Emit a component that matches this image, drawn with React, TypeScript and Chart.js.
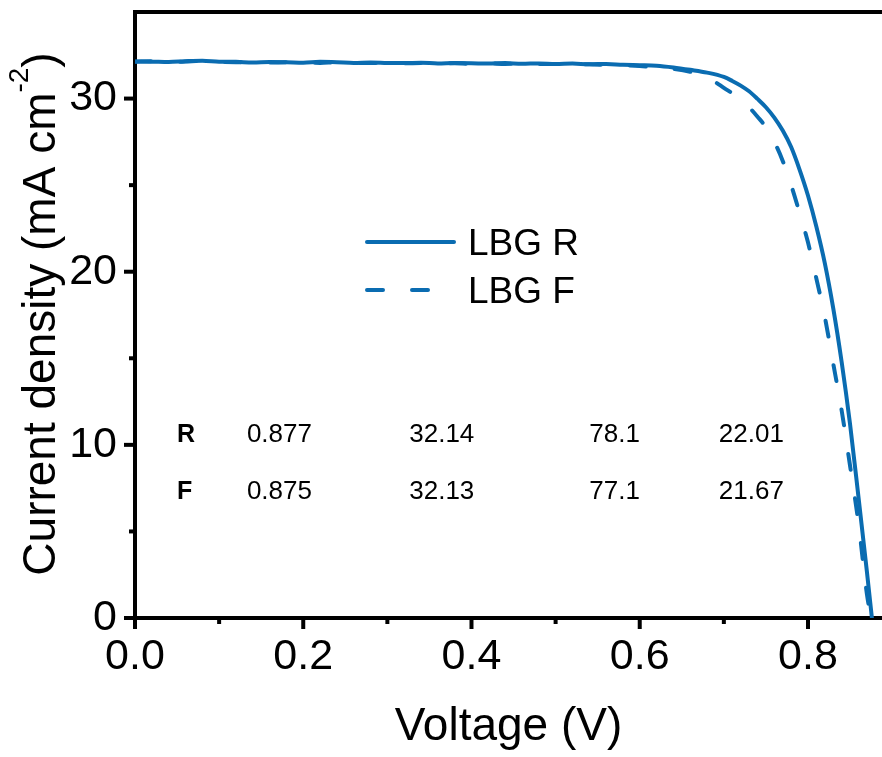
import React, { useEffect, useRef } from 'react';
import { Chart, registerables } from 'chart.js';

Chart.register(...registerables);

// ---------- data ----------
const voltageR = [
  0, 0.02, 0.04, 0.06, 0.08, 0.1, 0.12, 0.14, 0.16, 0.18, 0.2, 0.22, 0.24, 0.26, 0.28, 0.3,
  0.32, 0.34, 0.36, 0.38, 0.4, 0.42, 0.44, 0.46, 0.48, 0.5, 0.52, 0.54, 0.56, 0.58, 0.6,
  0.62, 0.64, 0.66, 0.68, 0.7, 0.71, 0.72, 0.73, 0.74, 0.75, 0.76, 0.77, 0.78, 0.79, 0.8,
  0.81, 0.82, 0.83, 0.84, 0.85, 0.86, 0.87, 0.876,
];
const currentR = [
  32.14, 32.13, 32.11, 32.16, 32.19, 32.13, 32.12, 32.08, 32.11, 32.1, 32.07, 32.12, 32.1, 32.06, 32.09, 32.06,
  32.05, 32.07, 32.03, 32.05, 32.04, 32.02, 32.05, 32.01, 32.03, 32.0, 32.02, 31.98, 32.0, 31.95, 31.93,
  31.9, 31.8, 31.66, 31.5, 31.25, 31.02, 30.75, 30.42, 29.98, 29.5, 28.9, 28.15, 27.2, 25.9, 24.4,
  22.6, 20.5, 17.9, 14.8, 11.2, 7.0, 2.7, 0,
];
const voltageF = [
  0, 0.02, 0.04, 0.06, 0.08, 0.1, 0.12, 0.14, 0.16, 0.18, 0.2, 0.22, 0.24, 0.26, 0.28, 0.3,
  0.32, 0.34, 0.36, 0.38, 0.4, 0.42, 0.44, 0.46, 0.48, 0.5, 0.52, 0.54, 0.56, 0.58, 0.6,
  0.62, 0.64, 0.66, 0.68, 0.69, 0.7, 0.71, 0.72, 0.73, 0.74, 0.75, 0.76, 0.77, 0.78, 0.79, 0.8,
  0.81, 0.82, 0.83, 0.84, 0.85, 0.86, 0.87, 0.875,
];
const currentF = [
  32.13, 32.15, 32.12, 32.14, 32.17, 32.12, 32.1, 32.11, 32.08, 32.1, 32.09, 32.06, 32.1, 32.07, 32.05, 32.07,
  32.04, 32.05, 32.02, 32.04, 32.01, 32.03, 32.0, 32.02, 31.99, 32.0, 31.97, 31.98, 31.94, 31.92, 31.88,
  31.8, 31.72, 31.55, 31.25, 30.95, 30.62, 30.3, 29.95, 29.5, 28.95, 28.35, 27.5, 26.4, 25.0, 23.4, 21.7,
  19.6, 17.4, 14.7, 12.0, 8.8, 5.5, 1.4, 0,
];
const seriesLabels = ['LBG R', 'LBG F'];
const xMajorTicks = [0, 0.2, 0.4, 0.6, 0.8];
const xMinorTicks = [0.1, 0.3, 0.5, 0.7];
const yMajorTicks = [0, 10, 20, 30];
const yMinorTicks = [5, 15, 25];
const tableRowLabels = ['R', 'F'];
const tableValuesR = ['0.877', '32.14', '78.1', '22.01'];
const tableValuesF = ['0.875', '32.13', '77.1', '21.67'];
const xTitle = 'Voltage (V)';
const yTitleMain = 'Current density (mA cm';
const yTitleSup = '-2';
const yTitleEnd = ')';

// ---------- layout / style ----------
const X_MIN = 0;
const X_MAX = 0.888;
const Y_MIN = 0;
const Y_MAX = 35;
const FONT = "'Liberation Sans', Arial, sans-serif";
const BLUE = '#0a6cb1';
const TABLE_COL_V = [0.05, 0.133, 0.326, 0.54, 0.694];
const TABLE_ROW_J = [10.17, 6.9];

const decorPlugin = {
  id: 'decor',
  afterDraw(chart: any) {
    const { ctx, chartArea: a, scales } = chart;
    const xs = scales.x;
    const ys = scales.y;
    ctx.save();
    ctx.strokeStyle = '#000';
    ctx.lineCap = 'butt';
    ctx.lineWidth = 4;
    // top frame line
    ctx.beginPath();
    ctx.moveTo(a.left - 2, a.top);
    ctx.lineTo(a.right, a.top);
    ctx.stroke();
    // ticks
    const seg = (x1: number, y1: number, x2: number, y2: number) => {
      ctx.beginPath();
      ctx.moveTo(x1, y1);
      ctx.lineTo(x2, y2);
      ctx.stroke();
    };
    xMajorTicks.forEach((v) => { const p = xs.getPixelForValue(v); seg(p, a.bottom, p, a.bottom + 11); });
    xMinorTicks.forEach((v) => { const p = xs.getPixelForValue(v); seg(p, a.bottom, p, a.bottom + 6); });
    yMajorTicks.forEach((v) => { const p = ys.getPixelForValue(v); seg(a.left, p, a.left - 11, p); });
    yMinorTicks.forEach((v) => { const p = ys.getPixelForValue(v); seg(a.left, p, a.left - 6, p); });

    // legend
    const ds = chart.data.datasets;
    const legX1 = a.left + 232;
    const legX2 = a.left + 319;
    const legRows = [a.top + 230, a.top + 278];
    ds.forEach((d: any, i: number) => {
      ctx.save();
      ctx.strokeStyle = d.borderColor;
      ctx.lineWidth = d.borderWidth;
      ctx.lineCap = 'round';
      ctx.setLineDash(d.borderDash || []);
      ctx.beginPath();
      ctx.moveTo(legX1, legRows[i]);
      ctx.lineTo(legX2, legRows[i]);
      ctx.stroke();
      ctx.restore();
      ctx.fillStyle = '#000';
      ctx.font = `37px ${FONT}`;
      ctx.textAlign = 'left';
      ctx.textBaseline = 'alphabetic';
      ctx.fillText(d.label, a.left + 333, legRows[i] + 13);
    });

    // parameter table
    const rows = [tableValuesR, tableValuesF];
    rows.forEach((vals, r) => {
      const py = ys.getPixelForValue(TABLE_ROW_J[r]);
      ctx.fillStyle = '#000';
      ctx.textAlign = 'left';
      ctx.textBaseline = 'alphabetic';
      ctx.font = `bold 25px ${FONT}`;
      ctx.fillText(tableRowLabels[r], xs.getPixelForValue(TABLE_COL_V[0]), py);
      ctx.font = `26px ${FONT}`;
      vals.forEach((t, c) => {
        ctx.fillText(t, xs.getPixelForValue(TABLE_COL_V[c + 1]), py);
      });
    });

    // y axis title with superscript
    ctx.save();
    ctx.translate(55, (a.top + a.bottom) / 2 - 1);
    ctx.rotate(-Math.PI / 2);
    ctx.fillStyle = '#000';
    ctx.textAlign = 'left';
    ctx.textBaseline = 'alphabetic';
    const mainFont = `46px ${FONT}`;
    const supFont = `28px ${FONT}`;
    ctx.font = mainFont;
    const w1 = ctx.measureText(yTitleMain).width;
    const w3 = ctx.measureText(yTitleEnd).width;
    ctx.font = supFont;
    const w2 = ctx.measureText(yTitleSup).width;
    const start = -(w1 + w2 + w3) / 2;
    ctx.font = mainFont;
    ctx.fillText(yTitleMain, start, 0);
    ctx.font = supFont;
    ctx.fillText(yTitleSup, start + w1, -27);
    ctx.font = mainFont;
    ctx.fillText(yTitleEnd, start + w1 + w2, 0);
    ctx.restore();

    ctx.restore();
  },
};

export default function App() {
  const ref = useRef<HTMLCanvasElement>(null);
  useEffect(() => {
    if (!ref.current) return;
    const chart = new Chart(ref.current, {
      type: 'line',
      data: {
        datasets: [
          {
            label: seriesLabels[0],
            data: voltageR.map((v, i) => ({ x: v, y: currentR[i] })),
            borderColor: BLUE,
            backgroundColor: BLUE,
            borderWidth: 4,
            pointRadius: 0,
            cubicInterpolationMode: 'monotone',
            borderCapStyle: 'round',
            borderJoinStyle: 'round',
            fill: false,
          },
          {
            label: seriesLabels[1],
            data: voltageF.map((v, i) => ({ x: v, y: currentF[i] })),
            borderColor: BLUE,
            backgroundColor: BLUE,
            borderWidth: 4,
            borderDash: [16, 29],
            pointRadius: 0,
            cubicInterpolationMode: 'monotone',
            borderCapStyle: 'round',
            borderJoinStyle: 'round',
            fill: false,
          },
        ],
      },
      options: {
        responsive: false,
        animation: false,
        devicePixelRatio: 1,
        layout: { padding: { top: 12, right: 0, bottom: 0, left: 0 } },
        plugins: { legend: { display: false }, tooltip: { enabled: false } },
        scales: {
          x: {
            type: 'linear',
            min: X_MIN,
            max: X_MAX,
            afterBuildTicks: (s: any) => { s.ticks = xMajorTicks.map((value) => ({ value })); },
            afterFit: (s: any) => { s.height = 139; s.paddingLeft = 0; s.paddingRight = 0; },
            grid: { display: false, drawTicks: false },
            border: { display: true, color: '#000', width: 4 },
            ticks: {
              padding: 13,
              color: '#000',
              font: { family: FONT, size: 43 },
              maxRotation: 0,
              autoSkip: false,
              callback: (v: any) => Number(v).toFixed(1),
            },
            title: {
              display: true,
              text: xTitle,
              color: '#000',
              font: { family: FONT, size: 46 },
              padding: { top: 0, bottom: 2 },
            },
          },
          y: {
            type: 'linear',
            min: Y_MIN,
            max: Y_MAX,
            afterBuildTicks: (s: any) => { s.ticks = yMajorTicks.map((value) => ({ value })); },
            afterFit: (s: any) => { s.width = 135; s.paddingTop = 0; s.paddingBottom = 0; },
            grid: { display: false, drawTicks: false },
            border: { display: true, color: '#000', width: 4 },
            ticks: {
              padding: 18,
              color: '#000',
              font: { family: FONT, size: 43 },
              autoSkip: false,
              callback: (v: any) => String(v),
            },
          },
        },
      },
      plugins: [decorPlugin],
    } as any);
    return () => chart.destroy();
  }, []);
  return (
    <div style={{ position: 'fixed', left: 0, top: 0, width: 882, height: 757, background: '#fff' }}>
      <canvas ref={ref} width={882} height={757} style={{ display: 'block', width: 882, height: 757 }} />
    </div>
  );
}
